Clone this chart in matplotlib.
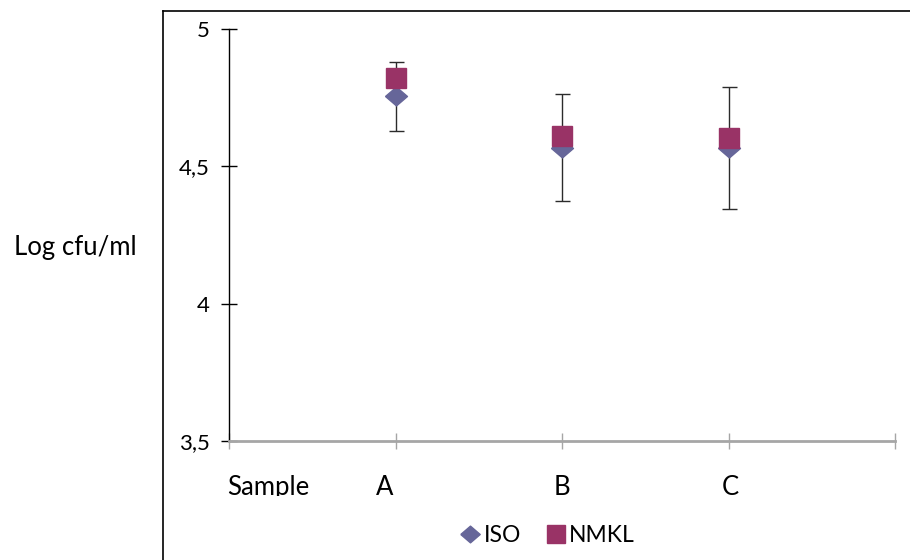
import numpy as np
import matplotlib
matplotlib.use("Agg")
import matplotlib.pyplot as plt
from matplotlib.lines import Line2D

plt.rcParams["font.family"] = ["Lato", "DejaVu Sans"]

samples = ["A", "B", "C"]
x_pos = [1, 2, 3]
iso = [4.755, 4.567, 4.567]
iso_err = [0.125, 0.195, 0.223]
nmkl = [4.821, 4.609, 4.602]
y_ticks = [3.5, 4, 4.5, 5]
y_tick_labels = ["3,5", "4", "4,5", "5"]

W, H = 910, 560
fig = plt.figure(figsize=(W / 100, H / 100), dpi=100)

# outer chart frame (runs off the right and bottom edge)
fig.add_artist(Line2D([163 / W, 163 / W], [0, 1 - 11 / H], color="black", lw=1.2))
fig.add_artist(Line2D([163 / W, 1], [1 - 11 / H, 1 - 11 / H], color="black", lw=1.2))

ax = fig.add_axes([229 / W, 1 - 441 / H, (895 - 229) / W, (441 - 29) / H])
ax.set_xlim(0, 4)
ax.set_ylim(3.5, 5)

diamond = [(-1, 0), (0, 0.86), (1, 0), (0, -0.86), (-1, 0)]
ax.errorbar(x_pos, iso, yerr=iso_err, fmt="none", ecolor="#2b2b2b", elinewidth=1,
            capsize=5.4, capthick=1, zorder=2)
ax.plot(x_pos, iso, ls="none", marker=diamond, ms=15.8, color="#666699",
        mec="#666699", zorder=3, label="ISO")
ax.plot(x_pos, nmkl, ls="none", marker="s", ms=14.4, color="#993366",
        mec="#993366", zorder=4, label="NMKL")

for s in ["top", "right"]:
    ax.spines[s].set_visible(False)
ax.spines["left"].set_color("black")
ax.spines["left"].set_linewidth(1)
ax.spines["bottom"].set_color("#a6a6a6")
ax.spines["bottom"].set_linewidth(2)

ax.set_yticks(y_ticks)
ax.set_yticklabels(y_tick_labels, fontsize=16)
ax.set_xticks([0, 1, 2, 3, 4])
ax.set_xticklabels([])
ax.tick_params(axis="y", direction="inout", length=12, width=1, color="black", pad=8)
ax.tick_params(axis="x", direction="inout", length=12, width=1, color="#a6a6a6")

# category labels, clipped at the bottom like the original
lab_ax = fig.add_axes([163 / W, 1 - 496 / H, (W - 163) / W, (496 - 441) / H])
lab_ax.axis("off")
lab_ax.set_xlim(163, W)
lab_ax.set_ylim(496, 441)
for name, xc in zip(["Sample"] + samples, [268, 385, 562, 730]):
    lab_ax.text(xc, 495, name, fontsize=18.5, ha="center", va="baseline", clip_on=True)

fig.text(75 / W, 1 - 247 / H, "Log cfu/ml", fontsize=18.5, ha="center", va="center")

handles = [
    Line2D([], [], ls="none", marker=diamond, ms=14, color="#666699"),
    Line2D([], [], ls="none", marker="s", ms=13, color="#993366"),
]
fig.legend(handles, ["ISO", "NMKL"], loc="center", bbox_to_anchor=(548 / W, 1 - 536 / H),
           ncol=2, frameon=False, fontsize=16.5, handlelength=0.8, handletextpad=0.2,
           columnspacing=1.1)

fig.savefig("out.png", dpi=100)
